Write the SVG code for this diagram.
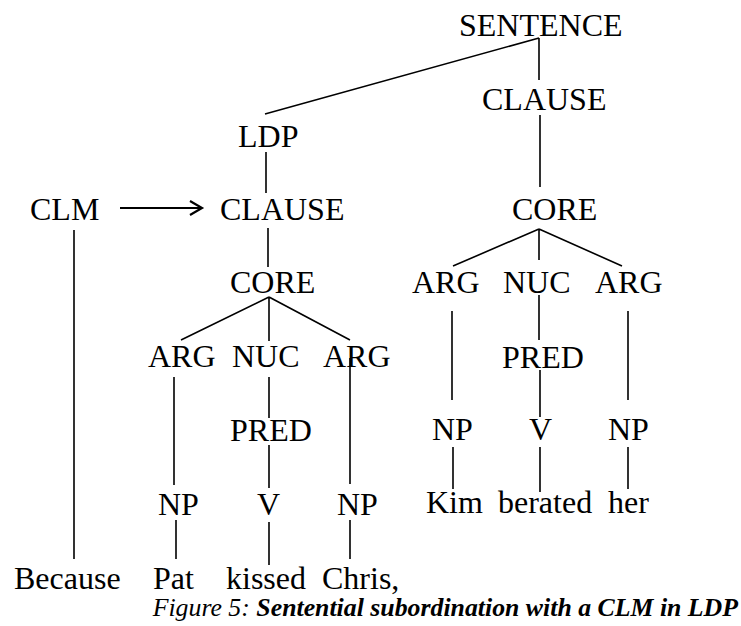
<svg xmlns="http://www.w3.org/2000/svg" width="741" height="626" viewBox="0 0 741 626">
<style>
text{font-family:'Liberation Serif','Times New Roman',Tinos,'DejaVu Serif',serif;font-size:32px;fill:#000}
.e{stroke:#000;stroke-width:1.6;fill:none}
.cap{font-size:25.8px;font-style:italic}
.b{font-weight:bold}
</style>
<rect width="741" height="626" fill="#fff"/>
<g id="connectors">
<path class="e" d="M539,38V80M539,38L265,114M540,115V187M266,152V193M268,228V267"/>
<path class="e" d="M269,297L181,340M269,297V341M269,297L350,340"/>
<path class="e" d="M174,377V485M269,377V418M350,358V484M269,445V488M176,520V559M269,522V565M350,520V559M74,230V559"/>
<path class="e" d="M539,229L453,266M539,229V260M539,229L622,266"/>
<path class="e" d="M452,311V400M539,295V340M628,311V400M540,370V417M453,447V489M540,447V492M628,447V489"/>
<path d="M120,208H201M190,201L202,208L190,215" stroke="#000" stroke-width="2.2" fill="none"/>
</g>
<g id="sentence"><text x="459" y="36">SENTENCE</text></g>
<g id="clause-main"><text x="482" y="110">CLAUSE</text></g>
<g id="ldp"><text x="238" y="147">LDP</text></g>
<g id="clm"><text x="30" y="220">CLM</text></g>
<g id="clause-sub"><text x="220" y="220">CLAUSE</text></g>
<g id="core-main"><text x="512" y="220">CORE</text></g>
<g id="core-sub"><text x="230" y="293">CORE</text></g>
<g id="arg1-main"><text x="412" y="293">ARG</text></g>
<g id="nuc-main"><text x="503" y="293">NUC</text></g>
<g id="arg2-main"><text x="595" y="293">ARG</text></g>
<g id="arg1-sub"><text x="148" y="367">ARG</text></g>
<g id="nuc-sub"><text x="232" y="367">NUC</text></g>
<g id="arg2-sub"><text x="323" y="367">ARG</text></g>
<g id="pred-main"><text x="502" y="368">PRED</text></g>
<g id="pred-sub"><text x="230" y="441">PRED</text></g>
<g id="np1-main"><text x="432" y="440">NP</text></g>
<g id="v-main"><text x="529" y="440">V</text></g>
<g id="np2-main"><text x="608" y="440">NP</text></g>
<g id="np1-sub"><text x="158" y="515">NP</text></g>
<g id="v-sub"><text x="257" y="515">V</text></g>
<g id="np2-sub"><text x="337" y="515">NP</text></g>
<g id="kim"><text x="426" y="513">Kim</text></g>
<g id="berated"><text x="498" y="513">berated</text></g>
<g id="her"><text x="608" y="513">her</text></g>
<g id="because"><text x="14" y="589">Because</text></g>
<g id="pat"><text x="153" y="589">Pat</text></g>
<g id="kissed"><text x="226" y="589">kissed</text></g>
<g id="chris"><text x="322" y="589">Chris,</text></g>
<g id="caption"><text class="cap" x="738" y="616" text-anchor="end">Figure 5: <tspan class="b">Sentential subordination with a CLM in LDP</tspan></text></g>
</svg>
